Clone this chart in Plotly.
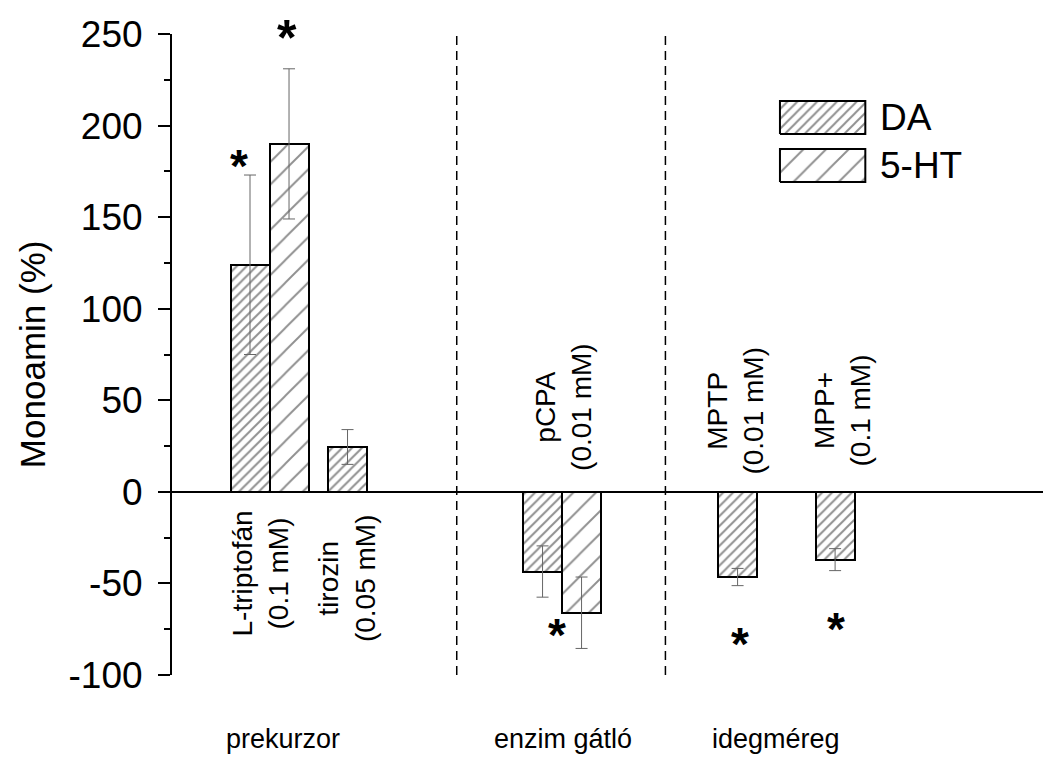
import plotly.graph_objects as go

# ---------------- data ----------------
da_labels = ["L-triptofán", "tirozin", "pCPA", "MPTP", "MPP+"]
da_values = [124, 24.5, -43.5, -46.5, -37]
da_errors = [49, 9.5, 14, 4.7, 6]

ht_labels = ["L-triptofán", "pCPA"]
ht_values = [190, -66]
ht_errors = [41, 19.5]

group_names = ["prekurzor", "enzim gátló", "idegméreg"]
y_ticks = [-100, -50, 0, 50, 100, 150, 200, 250]
y_ticktext = ["-100", "-50", "0", "50", "100", "150", "200", "250"]

# --------------- layout positions (slot units, 1 slot = bar width) ---------------
pos = {"L-triptofán": 2.0, "tirozin": 4.5, "pCPA": 9.5, "MPTP": 14.5, "MPP+": 17.0}
ht_offset = 1.0
x_range = [0, 22.33]
dividers = [7.3, 12.65]

FONT = "Liberation Sans, Arial, sans-serif"
HATCH = "#222"

fig = go.Figure()

fig.add_trace(go.Bar(
    x=[pos[l] for l in da_labels], y=da_values, width=1.0, name="DA",
    marker=dict(color="white", line=dict(color="black", width=2),
                pattern=dict(shape="/", size=7, solidity=0.28, fgcolor=HATCH, bgcolor="white")),
    error_y=dict(type="data", array=da_errors, visible=True, color="#666", thickness=1, width=6),
    showlegend=False,
))
fig.add_trace(go.Bar(
    x=[pos[l] + ht_offset for l in ht_labels], y=ht_values, width=1.0, name="5-HT",
    marker=dict(color="white", line=dict(color="black", width=2),
                pattern=dict(shape="/", size=16, solidity=0.12, fgcolor=HATCH, bgcolor="white")),
    error_y=dict(type="data", array=ht_errors, visible=True, color="#666", thickness=1, width=6),
    showlegend=False,
))

# legend boxes on an overlay axis (paper-like 0..1)
legend_items = [("DA", 7, 0.28, 0.8955, 0.844), ("5-HT", 16, 0.12, 0.8206, 0.769)]
for name, psize, sol, ytop, ybot in legend_items:
    x0, x1 = 0.698, 0.796
    fig.add_trace(go.Scatter(
        x=[x0, x1, x1, x0, x0], y=[ybot, ybot, ytop, ytop, ybot], mode="lines",
        fill="toself", fillcolor="white", line=dict(color="black", width=2),
        fillpattern=dict(shape="/", size=psize, solidity=sol, fgcolor=HATCH, bgcolor="white"),
        xaxis="x2", yaxis="y2", showlegend=False, hoverinfo="skip",
    ))
    fig.add_annotation(x=0.811, y=(ytop + ybot) / 2, xref="paper", yref="paper",
                       text=name, showarrow=False, xanchor="left", yanchor="middle",
                       font=dict(family=FONT, size=37, color="black"))

# divider lines
for xd in dividers:
    fig.add_shape(type="line", x0=xd, x1=xd, y0=-100, y1=250, xref="x", yref="y",
                  line=dict(color="black", width=1.5, dash="9px,6px"))

# rotated condition labels
cond_labels = [
    ("L-triptofán<br>(0.1 mM)", 2.26, -44.5),
    ("tirozin<br>(0.05 mM)", 4.49, -47),
    ("pCPA<br>(0.01 mM)", 10.03, 46.5),
    ("MPTP<br>(0.01 mM)", 14.44, 44.5),
    ("MPP+<br>(0.1 mM)", 17.18, 44.5),
]
for txt, xx, yy in cond_labels:
    fig.add_annotation(x=xx, y=yy, xref="x", yref="y", text=txt, textangle=-90,
                       showarrow=False, xanchor="center", yanchor="middle",
                       font=dict(family=FONT, size=28, color="black"))

# significance stars
stars = [(1.72, 178, 46), (2.95, 248, 50), (9.87, -78, 46), (14.56, -83, 46), (17.03, -75, 46)]
for xx, yy, sz in stars:
    fig.add_annotation(x=xx, y=yy, xref="x", yref="y", text="<b>*</b>", showarrow=False,
                       xanchor="center", yanchor="middle",
                       font=dict(family=FONT, size=sz, color="black"))

# group labels
group_x = [2.85, 10.03, 15.49]
for g, xx in zip(group_names, group_x):
    fig.add_annotation(x=xx, y=-0.1, xref="x", yref="paper", text=g, showarrow=False,
                       xanchor="center", yanchor="middle",
                       font=dict(family=FONT, size=27, color="black"))

# y title
fig.add_annotation(x=-0.16, y=0.5, xref="paper", yref="paper", text="Monoamin (%)",
                   textangle=-90, showarrow=False, xanchor="center", yanchor="middle",
                   font=dict(family=FONT, size=35, color="black"))

fig.update_layout(
    width=1043, height=780,
    margin=dict(l=172, r=0, t=34, b=105),
    paper_bgcolor="white", plot_bgcolor="white",
    barmode="overlay", bargap=0,
    showlegend=False,
    xaxis=dict(range=x_range, showticklabels=False, showline=False, showgrid=False,
               zeroline=False, ticks=""),
    yaxis=dict(range=[-100, 250], tickvals=y_ticks, ticktext=y_ticktext, ticks="outside",
               ticklen=12, tickwidth=2,
               tickcolor="black", showline=True, linecolor="black", linewidth=2,
               showgrid=False, zeroline=True, zerolinecolor="black", zerolinewidth=1.5,
               tickfont=dict(family=FONT, size=37, color="black"), ticklabelstandoff=8,
               minor=dict(dtick=25, ticks="outside", ticklen=6, tickwidth=2, tickcolor="black")),
    xaxis2=dict(range=[0, 1], domain=[0, 1], overlaying="x", visible=False),
    yaxis2=dict(range=[0, 1], domain=[0, 1], overlaying="y", visible=False),
)

fig.write_html("out.html")
